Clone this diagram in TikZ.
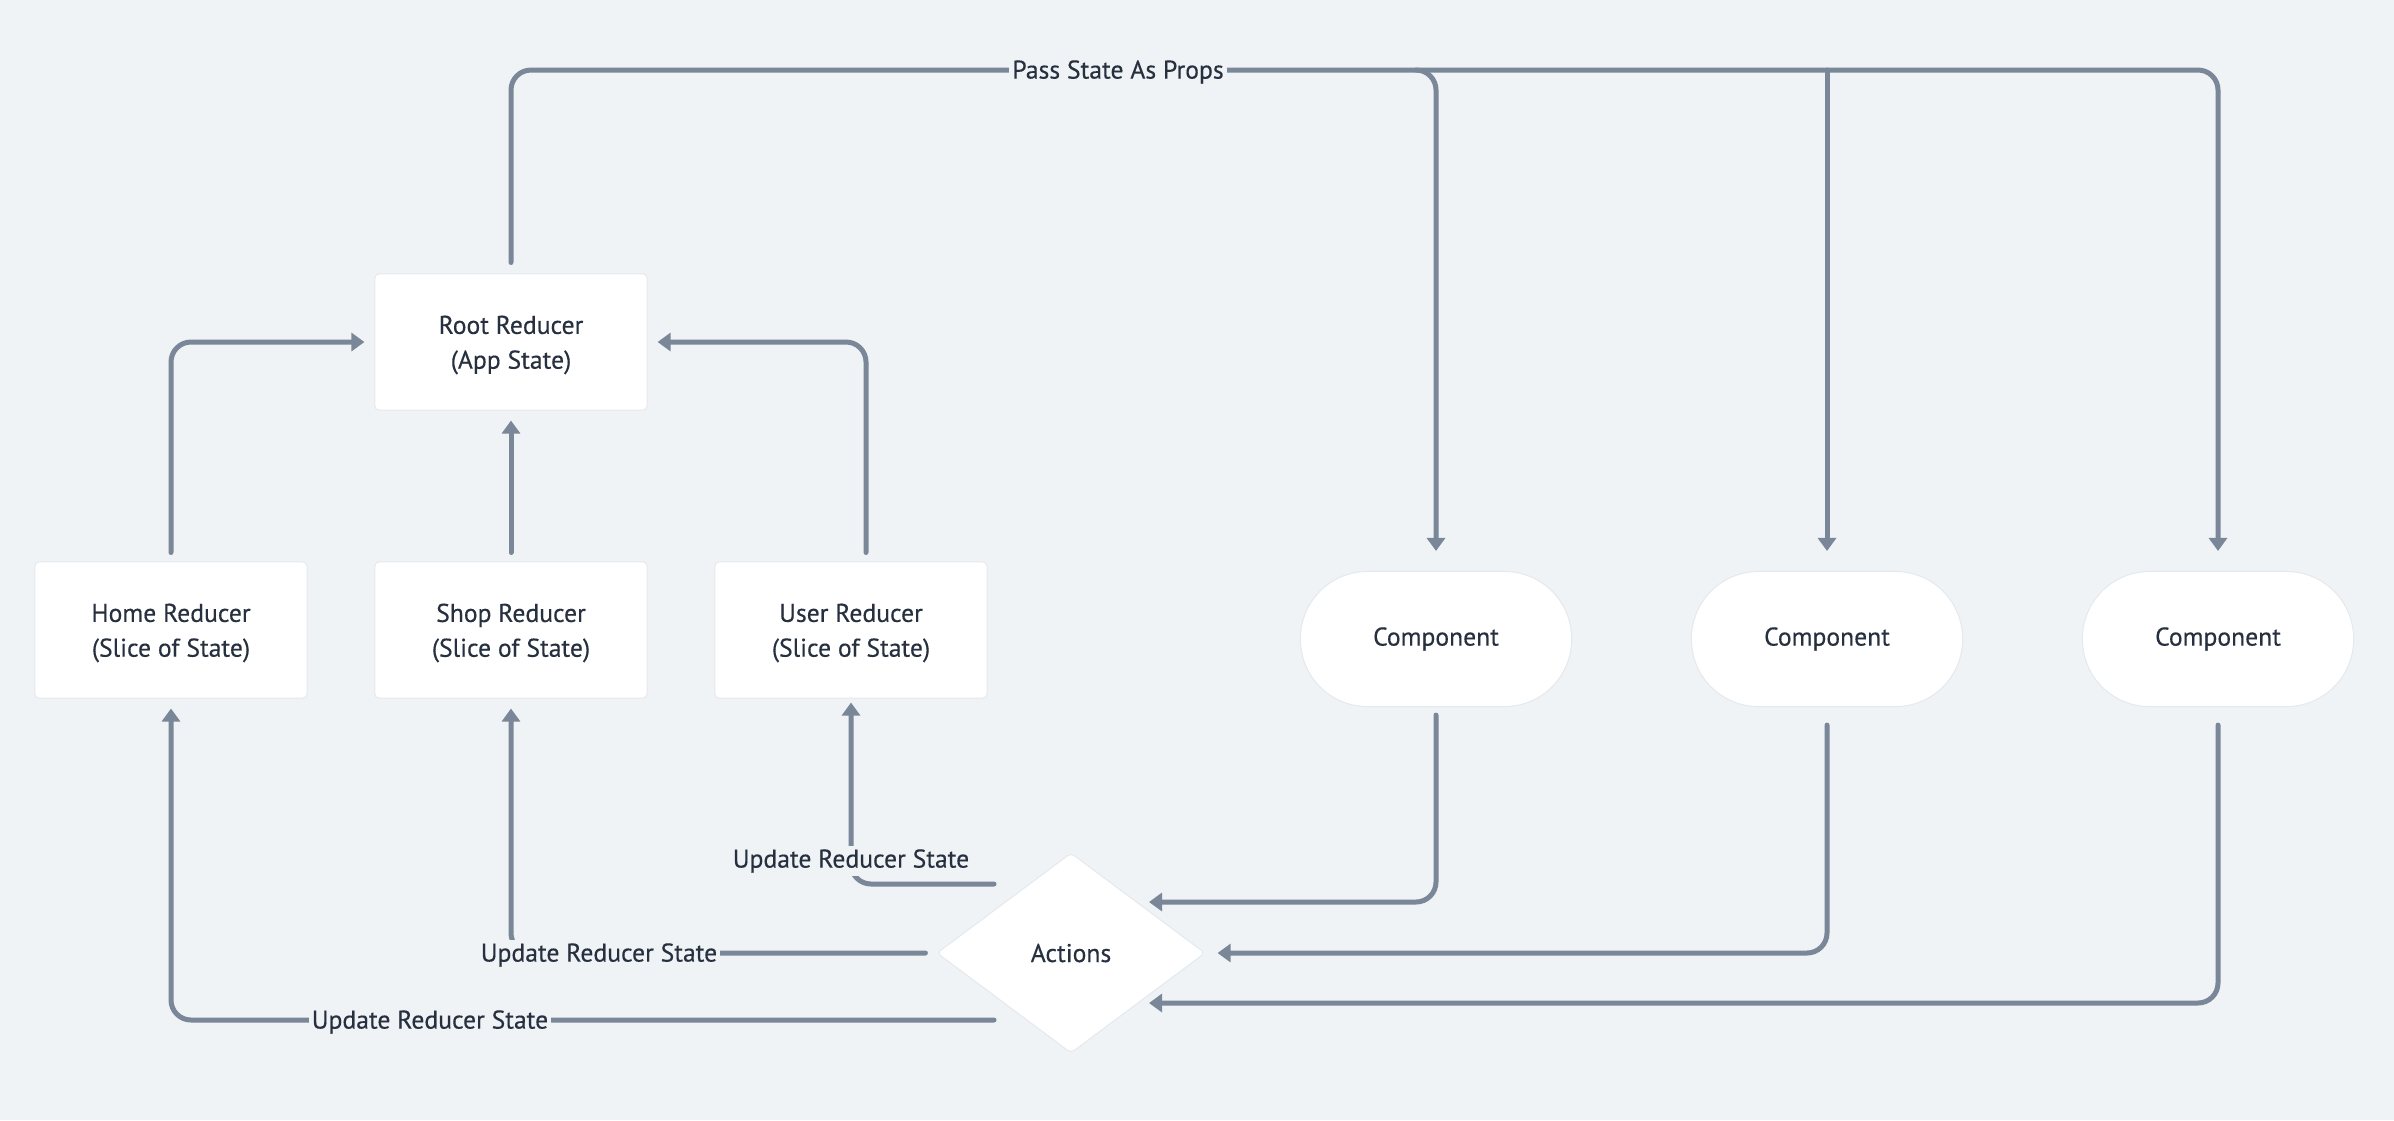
\documentclass[tikz,border=0pt]{standalone}
\usepackage{fontspec}
\setmainfont{PT Sans}[FakeBold=0.35]
\usetikzlibrary{arrows.meta,shapes.geometric,calc}
\definecolor{bg}{HTML}{EFF3F6}
\definecolor{wire}{HTML}{7A8798}
\definecolor{ink}{HTML}{27303F}
\definecolor{rim}{HTML}{E4E9EE}

\begin{document}
\begin{tikzpicture}[x=0.01cm,y=-0.01cm,
  every node/.style={font=\fontsize{7.3}{9.9}\selectfont, text=ink},
  card/.style={rectangle, fill=white, draw=rim, line width=0.01cm,
      rounded corners=0.04cm, minimum width=2.72cm, minimum height=1.36cm,
      align=center, inner sep=0pt},
  pill/.style={rectangle, fill=white, draw=rim, line width=0.01cm,
      rounded corners=0.67cm, minimum width=2.71cm, minimum height=1.35cm,
      inner sep=0pt},
  gate/.style={diamond, fill=white, draw=rim, line width=0.01cm, aspect=1.34,
      minimum width=2.68cm, minimum height=2.0cm, inner sep=0pt,
      rounded corners=0.04cm},
  conn/.style={draw=wire, line width=0.05cm, line cap=round,
      rounded corners=0.2cm},
  tip/.style={-{Triangle[width=0.18cm,length=0.13cm]}},
  lbl/.style={fill=bg, inner sep=0.03cm},
  caption/.style={text=ink},
]
% canvas
\fill[bg] (0,0) rectangle (2394,1120);

% reducers (boxes, then their two-line captions set slightly low)
\node[card] (root) at (511,342) {};
\node[card] (home) at (171,630) {};
\node[card] (shop) at (511,630) {};
\node[card] (user) at (851,630) {};
\node[caption, align=center] (rootcap) at ([yshift=-0.03cm]root.center) {Root Reducer\\(App State)};
\node[caption, align=center] (homecap) at ([yshift=-0.03cm]home.center) {Home Reducer\\(Slice of State)};
\node[caption, align=center] (shopcap) at ([yshift=-0.03cm]shop.center) {Shop Reducer\\(Slice of State)};
\node[caption, align=center] (usercap) at ([yshift=-0.03cm]user.center) {User Reducer\\(Slice of State)};

% components
\node[pill] (comp1) at (1436,639) {Component};
\node[pill] (comp2) at (1827,639) {Component};
\node[pill] (comp3) at (2218,639) {Component};

% actions
\node[gate] (actions) at (1071,953) {Actions};

% state bus along the top
\coordinate (bus) at (0,70);
\draw[conn,tip,shorten <=0.11cm,shorten >=0.2cm]
  (root.north) |- (bus -| comp1.north) -- (comp1.north);
\draw[conn,tip,shorten >=0.2cm]
  ($(bus -| comp1.north)+(-20,0)$) -- (bus -| comp3.north) -- (comp3.north);
\draw[conn,tip,shorten >=0.2cm] (bus -| comp2.north) -- (comp2.north);

% slices into the root reducer
\draw[conn,tip,shorten <=0.09cm,shorten >=0.1cm] (home.north) |- (root.west);
\draw[conn,tip,shorten <=0.09cm,shorten >=0.1cm] (shop.north) -- (root.south);
\draw[conn,tip,shorten <=0.09cm,shorten >=0.1cm]
  ([xshift=0.15cm]user.north) |- (root.east);

% components dispatch actions
\draw[conn,tip,shorten <=0.08cm]
  (comp1.south) |- ([shift={(78,-51)}]actions.center);
\draw[conn,tip,shorten <=0.18cm,shorten >=0.12cm] (comp2.south) |- (actions.east);
\draw[conn,tip,shorten <=0.18cm]
  (comp3.south) |- ([shift={(78,50)}]actions.center);

% actions update the slices
\draw[conn,tip,shorten >=0.04cm]
  ([shift={(-77,-69)}]actions.center) -| (user.south);
\draw[conn,tip,shorten <=0.11cm,shorten >=0.1cm] (actions.west) -| (shop.south);
\draw[conn,tip,shorten >=0.1cm]
  ([shift={(-77,67)}]actions.center) -| (home.south);

% labels on the connectors
\node[lbl] (pass) at (1118,72) {Pass State As Props};
\node[lbl] (upd1) at (851,861) {Update Reducer State};
\node[lbl] (upd2) at (599,955) {Update Reducer State};
\node[lbl] (upd3) at (430,1022) {Update Reducer State};
\end{tikzpicture}
\end{document}
